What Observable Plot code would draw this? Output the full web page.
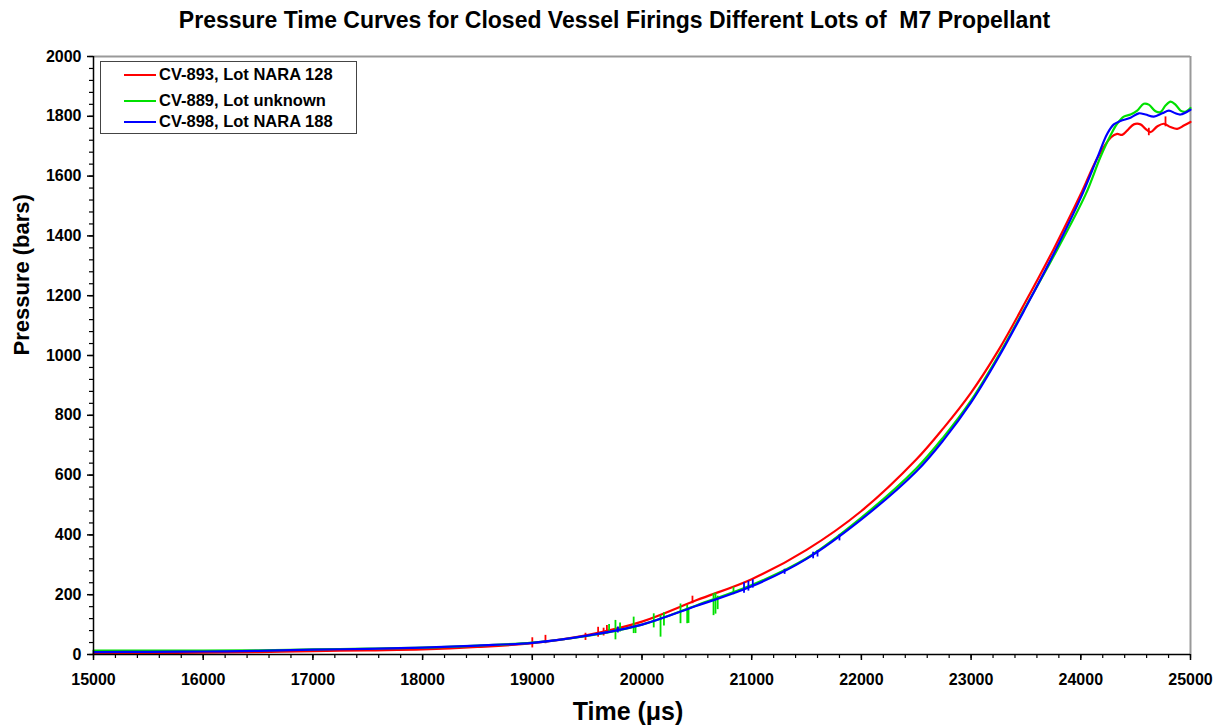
<!DOCTYPE html>
<html>
<head>
<meta charset="utf-8">
<script src="https://cdn.jsdelivr.net/npm/d3@7"></script>
<script src="https://cdn.jsdelivr.net/npm/@observablehq/plot@0.6"></script>
<style>
  html, body { margin: 0; padding: 0; background: #fff; }
  #wrap { position: relative; width: 1229px; height: 726px; font-family: "Liberation Sans", Arial, sans-serif; font-weight: bold; color: #000; }
  #title { position: absolute; left: 0; top: 7px; width: 1229px; text-align: center; font-size: 23px; line-height: 26px; white-space: pre; }
  #chart { position: absolute; left: 0; top: 40px; }
  #legend { position: absolute; left: 100px; top: 61px; width: 257px; height: 73px; border: 1.5px solid #444; background: #fff; box-sizing: border-box; }
  .item { position: absolute; left: 0; height: 20px; font-size: 16.5px; line-height: 20px; white-space: pre; }
  .swatch { position: absolute; left: 23px; width: 32px; height: 2px; top: 10px; }
  .lab { position: absolute; left: 58px; top: 0; }
</style>
</head>
<body>
<div id="wrap">
  <div id="title">Pressure Time Curves for Closed Vessel Firings Different Lots of  M7 Propellant</div>
  <div id="chart"></div>
  <div id="legend"></div>
</div>
<script>
// Time axis (µs) and pressure axis (bars) ticks
const xMajorTicks = [15000, 16000, 17000, 18000, 19000, 20000, 21000, 22000, 23000, 24000, 25000];
const yMajorTicks = [0, 200, 400, 600, 800, 1000, 1200, 1400, 1600, 1800, 2000];
const xMinorTicks = d3.range(15000, 25001, 200);
const yMinorTicks = d3.range(0, 2001, 40);

// Series names and colours
const seriesNames = ["CV-893, Lot NARA 128", "CV-889, Lot unknown", "CV-898, Lot NARA 188"];
const seriesColors = ["#ff0000", "#00e000", "#0000ff"];

// CV-893 (red)
const redTime = [15000,15500,16000,16500,17000,17500,18000,18500,19000,19500,20000,20500,21000,21500,22000,22500,22750,23000,23250,23500,23750,24000,24150,24276,24331,24377,24422,24483,24544,24590,24635,24696,24757,24818,24879,24939,25000];
const redPressure = [3,5,6,8,11,14,17,25,38,65,110,182,252,350,480,652,758,876,1018,1182,1354,1540,1660,1730,1741,1738,1752,1773,1773,1758,1747,1766,1775,1764,1758,1769,1781];

// CV-889 (green)
const greenTime = [15000,15500,16000,16500,17000,17500,18000,18500,19000,19500,20000,20500,21000,21500,22000,22500,22750,23000,23250,23500,23750,24043,24179,24276,24331,24392,24453,24514,24574,24620,24681,24727,24772,24818,24863,24909,24950,25000];
const greenPressure = [13,13,13,14,17,20,23,30,40,62,100,165,232,322,458,622,728,850,1000,1165,1330,1538,1664,1740,1775,1799,1806,1819,1842,1839,1817,1814,1836,1849,1839,1819,1815,1828];

// CV-898 (blue)
const blueTime = [15000,15500,16000,16500,17000,17500,18000,18500,19000,19500,20000,20500,21000,21500,22000,22500,22750,23000,23250,23500,23750,24000,24149,24240,24301,24361,24453,24529,24590,24666,24742,24803,24863,24909,25000];
const bluePressure = [8,9,10,12,16,19,23,30,39,63,100,163,228,320,452,612,718,843,994,1162,1338,1528,1660,1741,1773,1784,1795,1810,1806,1799,1810,1819,1810,1806,1822];

// Signal noise bursts: time, low and high pressure of each spike
const redSpikeTime = [19000,19120,19485,19600,19650,19680,20460,24620,24772];
const redSpikeLow  = [22,36,47,58,62,69,170,1735,1765];
const redSpikeHigh = [56,64,71,91,88,97,195,1760,1798];

const greenSpikeTime = [19700,19758,19800,19924,19941,20107,20169,20200,20351,20412,20424,20652,20670,20690,20834];
const greenSpikeLow  = [70,49,75,70,70,89,58,95,103,103,104,130,135,150,200];
const greenSpikeHigh = [100,114,105,125,97,136,130,140,169,164,150,203,205,195,225];

const blueSpikeTime = [19780,20930,20970,21010,21300,21560,21600,21800];
const blueSpikeLow  = [72,205,212,222,268,320,326,380];
const blueSpikeHigh = [92,240,245,250,285,342,348,400];

const rows = (ts, ps) => ts.map((t, i) => ({t, p: ps[i]}));
const spikes = (ts, lo, hi) => ts.map((t, i) => ({t, lo: lo[i], hi: hi[i]}));

const curves = [rows(redTime, redPressure), rows(greenTime, greenPressure), rows(blueTime, bluePressure)];
const bursts = [spikes(redSpikeTime, redSpikeLow, redSpikeHigh), spikes(greenSpikeTime, greenSpikeLow, greenSpikeHigh), spikes(blueSpikeTime, blueSpikeLow, blueSpikeHigh)];

const seriesMarks = [];
curves.forEach((c, k) => {
  seriesMarks.push(Plot.line(c, {x: "t", y: "p", stroke: seriesColors[k], strokeWidth: 2.2, curve: "catmull-rom"}));
  seriesMarks.push(Plot.ruleX(bursts[k], {x: "t", y1: "lo", y2: "hi", stroke: seriesColors[k], strokeWidth: 1.8}));
});

const plot = Plot.plot({
  width: 1229,
  height: 686,
  marginTop: 16,
  marginLeft: 93,
  marginRight: 39,
  marginBottom: 72,
  x: {domain: [15000, 25000]},
  y: {domain: [0, 2000]},
  style: {fontFamily: '"Liberation Sans", Arial, sans-serif', fontWeight: "bold", fontSize: "16px", color: "#000", background: "#fff", overflow: "visible"},
  marks: [
    // frame: gray top and right edges
    Plot.ruleY([2000], {stroke: "#999", strokeWidth: 2}),
    Plot.ruleX([25000], {stroke: "#999", strokeWidth: 2}),
    ...seriesMarks,
    // axes
    Plot.axisX({ticks: xMinorTicks, tickSize: 4, tickFormat: () => "", label: null, strokeWidth: 1.2}),
    Plot.axisY({ticks: yMinorTicks, tickSize: 4, tickFormat: () => "", label: null, strokeWidth: 1.2}),
    Plot.axisX({ticks: xMajorTicks, tickSize: 6, tickPadding: 13, tickFormat: d => String(d), label: null, strokeWidth: 1.5, fontSize: 16, fontWeight: "bold"}),
    Plot.axisY({ticks: yMajorTicks, tickSize: 6, tickPadding: 6, tickFormat: d => String(d), label: null, strokeWidth: 1.5, fontSize: 16, fontWeight: "bold"}),
    Plot.ruleX([15000], {stroke: "#000", strokeWidth: 1.5}),
    Plot.ruleY([0], {stroke: "#000", strokeWidth: 1.5}),
    // axis titles
    Plot.text(["Time (μs)"], {frameAnchor: "bottom", dy: 65, dx: -14, fontSize: 25, fontWeight: "bold"}),
    Plot.text(["Pressure (bars)"], {frameAnchor: "left", dx: -72, rotate: -90, fontSize: 22, fontWeight: "bold"})
  ]
});
document.getElementById("chart").appendChild(plot);

// legend
const legend = document.getElementById("legend");
const legendTops = [2, 28, 49];
seriesNames.forEach((name, k) => {
  const item = document.createElement("div");
  item.className = "item";
  item.style.top = legendTops[k] + "px";
  const sw = document.createElement("div");
  sw.className = "swatch";
  sw.style.background = seriesColors[k];
  const lab = document.createElement("div");
  lab.className = "lab";
  lab.textContent = name;
  item.appendChild(sw);
  item.appendChild(lab);
  legend.appendChild(item);
});
</script>
</body>
</html>
